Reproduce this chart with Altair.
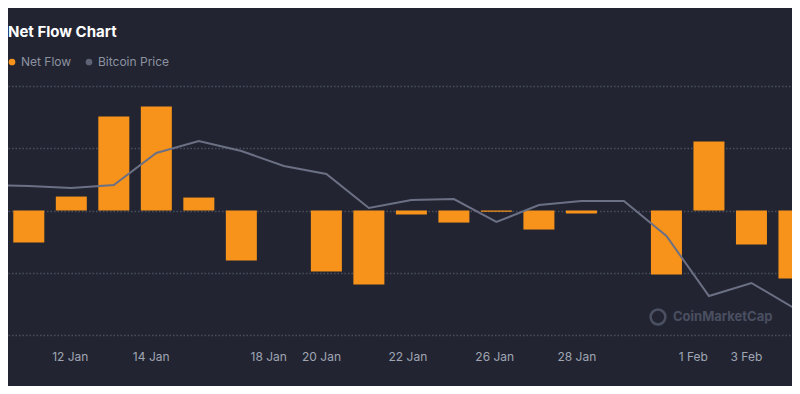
import json
import altair as alt
import pandas as pd

# ---- data ----
slots = list(range(-1, 19))
net_flow = [None, -257, 112, 755, 835, 104, -402, None, -490, -594, -32, -97, -10,
            -153, -24, None, -514, 554, -273, -546]
btc_price = [101500, 101450, 101350, 101500, 103100, 103700, 103200, 102450, 102050,
             100350, 100750, 100800, 99650, 100500, 100700, 100700, 98950, 95950,
             96600, 95350]

tick_pos = [0.964, 2.868, 5.632, 6.874, 8.906, 10.95, 12.88, 15.62, 16.87]
tick_labels = ["12 Jan", "14 Jan", "18 Jan", "20 Jan", "22 Jan", "26 Jan", "28 Jan",
               "1 Feb", "3 Feb"]

flow_domain = [-1000, 1000]
flow_grid = [-1000, -500, 0, 500, 1000]
price_domain = [94000, 106450]
x_domain = [-0.3716, 17.836]

title_text = ["Net Flow Chart"]
legend_labels = ["Net Flow", "Bitcoin Price"]
watermark = ["CoinMarketCap"]

# ---- styles ----
BG = "#222531"
ORANGE = "#F7931A"
LINE = "#6b7084"
GRID = "#4a4f60"
AXIS_TXT = "#a0a5b4"
LEG_TXT = "#8d92a1"
FONT = "Inter"

W, H = 784, 249

df = pd.DataFrame({"slot": slots, "flow": net_flow, "price": btc_price})

label_expr = "[%s][indexof([%s], datum.value)]" % (
    ",".join(json.dumps(t) for t in tick_labels),
    ",".join(str(v) for v in tick_pos),
)

x_enc = alt.X(
    "slot:Q",
    scale=alt.Scale(domain=x_domain, nice=False, zero=False),
    axis=alt.Axis(
        values=tick_pos, labelExpr=label_expr, title=None, domain=False,
        ticks=False, grid=False, labelPadding=16, labelColor=AXIS_TXT,
        labelFontSize=12, labelFont=FONT, labelOverlap=False, labelFlush=False,
    ),
)

bars = alt.Chart(df).mark_bar(color=ORANGE, size=31, clip=True, orient="vertical").encode(
    x=x_enc,
    y=alt.Y(
        "flow:Q",
        scale=alt.Scale(domain=flow_domain, nice=False, zero=False),
        axis=alt.Axis(values=flow_grid, labels=False, ticks=False, domain=False,
                      title=None, grid=True, gridColor=GRID, gridDash=[1.5, 2],
                      gridWidth=1.3),
    ),
    y2=alt.datum(0),
)

line = alt.Chart(df).mark_line(color=LINE, strokeWidth=2, clip=True).encode(
    x=x_enc,
    y=alt.Y("price:Q", scale=alt.Scale(domain=price_domain, nice=False, zero=False),
            axis=None),
)

title = alt.Chart(pd.DataFrame({"t": title_text})).mark_text(
    align="left", baseline="alphabetic", font=FONT, fontSize=15, fontWeight="bold",
    color="#ffffff",
).encode(x=alt.value(0), y=alt.value(-49), text="t:N")

leg_df = pd.DataFrame({"t": legend_labels})
leg_dot_flow = alt.Chart(leg_df.iloc[[0]]).mark_circle(size=45, color=ORANGE, opacity=1).encode(
    x=alt.value(4), y=alt.value(-24))
leg_flow = alt.Chart(leg_df.iloc[[0]]).mark_text(
    align="left", baseline="alphabetic", font=FONT, fontSize=12, color=LEG_TXT,
).encode(x=alt.value(13), y=alt.value(-20), text="t:N")
leg_dot = alt.Chart(leg_df.iloc[[1]]).mark_circle(size=45, color="#5d6274", opacity=1).encode(
    x=alt.value(81), y=alt.value(-24))
leg_price = alt.Chart(leg_df.iloc[[1]]).mark_text(
    align="left", baseline="alphabetic", font=FONT, fontSize=12, color=LEG_TXT,
).encode(x=alt.value(90), y=alt.value(-20), text="t:N")

wm_df = pd.DataFrame({"t": watermark})
wm_ring = alt.Chart(wm_df).mark_point(shape="circle", filled=False, size=220,
                                      color="#4a4f61", strokeWidth=2.5, opacity=1).encode(
    x=alt.value(650), y=alt.value(231))
wm_text = alt.Chart(wm_df).mark_text(
    align="left", baseline="middle", font=FONT, fontSize=13, fontWeight="bold",
    color="#4a4f61",
).encode(x=alt.value(665), y=alt.value(231), text="t:N")

chart = alt.layer(
    bars, line, title, leg_dot_flow, leg_flow, leg_dot, leg_price, wm_ring, wm_text
).resolve_scale(y="independent").properties(
    width=W, height=H,
    autosize=alt.AutoSizeParams(type="none"),
    padding={"left": 0, "top": 78, "right": 0, "bottom": 51},
).configure(background=BG).configure_view(stroke=None)

chart.save("out.html", embed_options={"renderer": "svg", "actions": False})
